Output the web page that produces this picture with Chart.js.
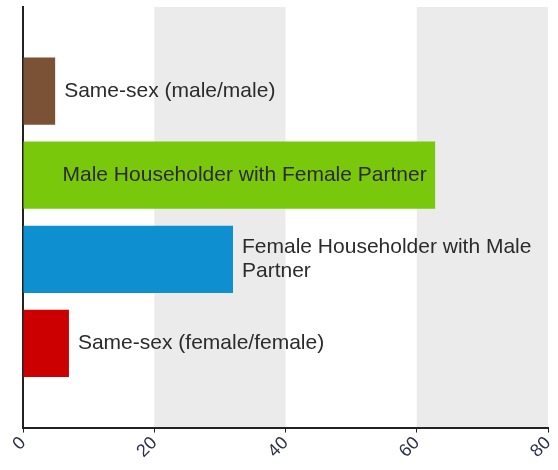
<!DOCTYPE html>
<html>
<head>
<meta charset="utf-8">
<script src="https://cdn.jsdelivr.net/npm/chart.js@4.4.1/dist/chart.umd.min.js"></script>
<style>
  html, body { margin: 0; padding: 0; background: #fff; }
  #wrap { width: 558px; height: 470px; }
</style>
</head>
<body>
<div id="wrap"><canvas id="chart0"></canvas></div>
<script>
const categories = [
    "Same-sex (male/male)",
    "Male Householder with Female Partner",
    "Female Householder with Male Partner",
    "Same-sex (female/female)",
];
const values = [4.9, 62.8, 32.0, 7.0];
const barColors = ["#7b5236", "#79c80c", "#0e90d0", "#cc0000"];
const xTicks = [0, 20, 40, 60, 80];
const shadedBands = [[20, 40], [60, 80]];

// empty slot above and below so the bars sit half a band off the edges
const yLabels = [""].concat(categories, [""]);
const yData = [null].concat(values, [null]);
const yColors = ["#fff"].concat(barColors, ["#fff"]);

const labelFont = '21px "Liberation Sans", Arial, sans-serif';

const bandsPlugin = {
    id: "bands",
    beforeDraw(chart) {
        const { ctx, chartArea, scales } = chart;
        ctx.save();
        ctx.fillStyle = "#ebebeb";
        shadedBands.forEach(([a, b]) => {
            const x0 = scales.x.getPixelForValue(a);
            const x1 = scales.x.getPixelForValue(b);
            ctx.fillRect(x0, chartArea.top, x1 - x0, chartArea.bottom - chartArea.top);
        });
        ctx.restore();
    },
};

function wrapText(ctx, text, maxWidth) {
    const words = text.split(" ");
    const lines = [];
    let line = "";
    for (const w of words) {
        const test = line ? line + " " + w : w;
        if (line && ctx.measureText(test).width > maxWidth) {
            lines.push(line);
            line = w;
        } else {
            line = test;
        }
    }
    if (line) lines.push(line);
    return lines;
}

// label goes on whichever side of the bar end has more room
const barLabelsPlugin = {
    id: "barLabels",
    afterDatasetsDraw(chart) {
        const { ctx, chartArea } = chart;
        const meta = chart.getDatasetMeta(0);
        ctx.save();
        ctx.font = labelFont;
        ctx.fillStyle = "#2b2b2b";
        ctx.textBaseline = "middle";
        meta.data.forEach((bar, i) => {
            const text = yLabels[i];
            if (!text) return;
            const outside = chartArea.right - bar.x - 9;
            const inside = bar.x - bar.base - 39;
            let x, room;
            if (outside >= inside) {
                x = bar.x + 9;
                room = outside;
            } else {
                x = bar.base + 39;
                room = inside;
            }
            const lines = wrapText(ctx, text, room);
            const lh = 24;
            lines.forEach((ln, k) => {
                ctx.fillText(ln, x, bar.y + (k - (lines.length - 1) / 2) * lh);
            });
        });
        ctx.restore();
    },
};

const ctx = document.getElementById("chart0").getContext("2d");
window.chart = new Chart(ctx, {
    type: "bar",
    data: {
        labels: yLabels,
        datasets: [
            {
                data: yData,
                backgroundColor: yColors,
                categoryPercentage: 0.8,
                barPercentage: 1.0,
                borderWidth: 0,
            },
        ],
    },
    options: {
        indexAxis: "y",
        responsive: true,
        maintainAspectRatio: false,
        animation: false,
        layout: { padding: { top: 7, right: 10, left: 15, bottom: 8 } },
        plugins: {
            legend: { display: false },
            tooltip: { enabled: false },
        },
        scales: {
            x: {
                min: 0,
                max: 80,
                afterBuildTicks: (axis) => {
                    axis.ticks = xTicks.map((v) => ({ value: v }));
                },
                // the rotated "80" doesn't really overhang, drop its padding
                afterFit: (axis) => {
                    axis.paddingRight = 0;
                },
                ticks: {
                    minRotation: 45,
                    maxRotation: 45,
                    color: "#2a3148",
                    font: { size: 18, family: '"Liberation Sans", Arial, sans-serif' },
                    padding: 0,
                },
                grid: {
                    drawOnChartArea: false,
                    drawTicks: true,
                    tickLength: 5,
                    color: "#222",
                    lineWidth: 1,
                },
                border: { color: "#222", width: 2 },
            },
            y: {
                offset: false,
                ticks: { display: false },
                grid: { display: false },
                border: { display: true, color: "#222", width: 2 },
            },
        },
    },
    plugins: [bandsPlugin, barLabelsPlugin],
});
</script>
</body>
</html>
